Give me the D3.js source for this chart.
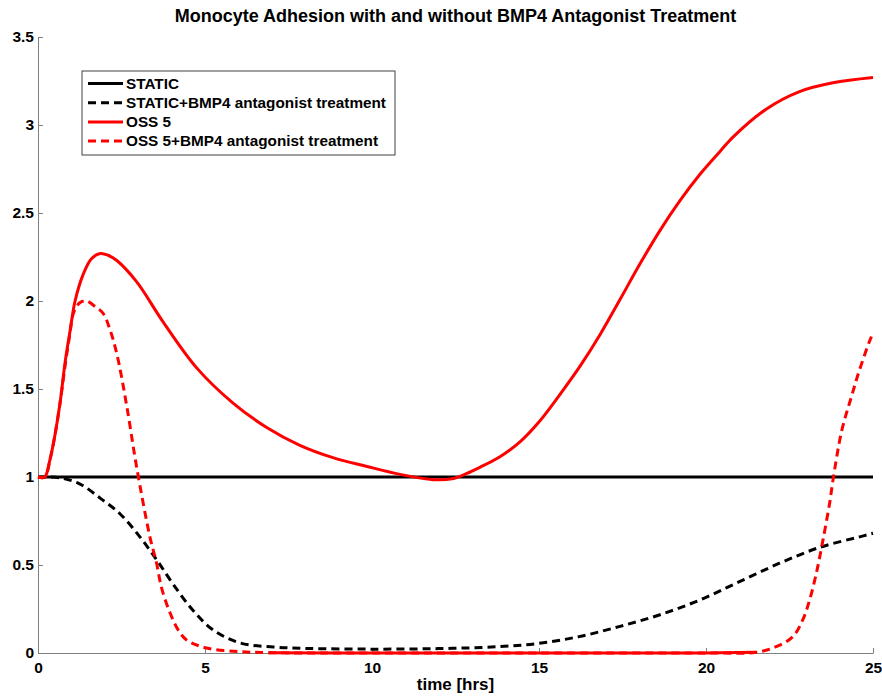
<!DOCTYPE html>
<html>
<head>
<meta charset="utf-8">
<script src="https://cdn.jsdelivr.net/npm/d3@7"></script>
<style>
  body { margin: 0; background: #fff; }
  text { font-family: "Liberation Sans", Arial, sans-serif; font-weight: bold; }
</style>
</head>
<body>
<svg id="chart" width="882" height="698"></svg>
<script>
// chart text
const titleText = 'Monocyte Adhesion with and without BMP4 Antagonist Treatment';
const xLabelText = 'time [hrs]';
const xTicks = [0, 5, 10, 15, 20, 25];
const yTicks = [0, 0.5, 1, 1.5, 2, 2.5, 3, 3.5];

// STATIC - flat at 1
const staticTime = [0, 25];
const staticVals = [1, 1];

// STATIC + BMP4 antagonist
const staticBmpTime = [0, 0.66, 1.26, 1.86, 2.46, 3.05, 3.55, 4.05, 4.65, 5.25, 6.05, 7.05, 8.05, 10, 12, 13.8, 15.0, 16.2, 17.4, 18.6, 19.8, 21.0, 22.2, 23.4, 24.6, 25];
const staticBmpVals = [1, 0.995, 0.96, 0.88, 0.79, 0.66, 0.53, 0.39, 0.24, 0.13, 0.057, 0.034, 0.026, 0.022, 0.025, 0.036, 0.055, 0.093, 0.15, 0.216, 0.30, 0.405, 0.51, 0.60, 0.66, 0.68];

// OSS 5
const ossTime = [0, 0.2, 0.36, 0.5, 0.66, 0.81, 0.96, 1.11, 1.35, 1.6, 1.86, 2.1, 2.36, 2.95, 3.75, 4.75, 5.84, 6.86, 7.84, 8.83, 9.85, 10.84, 11.83, 12.4, 12.84, 13.23, 13.83, 14.43, 15.03, 15.63, 16.23, 16.83, 17.43, 18.02, 18.62, 19.22, 19.82, 20.42, 20.8, 21.8, 22.8, 23.8, 25];
const ossVals = [1, 1, 1.1, 1.23, 1.42, 1.65, 1.83, 2.0, 2.15, 2.24, 2.27, 2.26, 2.23, 2.11, 1.88, 1.62, 1.42, 1.28, 1.18, 1.11, 1.06, 1.015, 0.985, 0.99, 1.02, 1.055, 1.115, 1.2, 1.32, 1.47, 1.63, 1.81, 2.01, 2.21, 2.40, 2.57, 2.72, 2.85, 2.93, 3.09, 3.19, 3.24, 3.27];

// OSS 5 + BMP4 antagonist
const ossBmpTime = [0, 0.2, 0.36, 0.5, 0.66, 0.81, 0.96, 1.06, 1.25, 1.45, 1.7, 1.95, 2.15, 2.36, 2.66, 2.95, 3.35, 3.55, 3.7, 3.95, 4.2, 4.45, 5.05, 6.05, 6.9, 10, 15, 20, 21.5, 22.1, 22.6, 22.9, 23.1, 23.3, 23.5, 23.7, 23.8, 24.06, 24.36, 24.6, 24.96, 25];
const ossBmpVals = [1, 1, 1.1, 1.23, 1.42, 1.63, 1.82, 1.93, 1.99, 2.0, 1.97, 1.93, 1.84, 1.70, 1.40, 1.06, 0.66, 0.51, 0.37, 0.23, 0.13, 0.074, 0.028, 0.008, 0.002, 0, 0, 0, 0.004, 0.036, 0.093, 0.19, 0.30, 0.45, 0.64, 0.85, 0.98, 1.26, 1.46, 1.61, 1.80, 1.81];

const zip = (ts, vs) => ts.map((t, i) => ({ t: t, v: vs[i] }));

const series = [
  { name: 'STATIC', color: '#000', dash: null, data: zip(staticTime, staticVals) },
  { name: 'STATIC+BMP4 antagonist treatment', color: '#000', dash: '8,5', data: zip(staticBmpTime, staticBmpVals) },
  { name: 'OSS 5', color: '#f00', dash: null, data: zip(ossTime, ossVals) },
  { name: 'OSS 5+BMP4 antagonist treatment', color: '#f00', dash: '8,5', data: zip(ossBmpTime, ossBmpVals) }
];

const svg = d3.select('#chart');
const margin = { top: 37, right: 9, bottom: 45, left: 38 };
const width = +svg.attr('width');
const height = +svg.attr('height');
const innerW = width - margin.left - margin.right;
const innerH = height - margin.top - margin.bottom;

const x = d3.scaleLinear().domain([0, 25]).range([0, innerW]);
const y = d3.scaleLinear().domain([0, 3.5]).range([innerH, 0]);

const g = svg.append('g')
  .attr('transform', `translate(${margin.left},${margin.top})`);

// axes - ticks point inward like matlab
const xAxisG = g.append('g')
  .attr('transform', `translate(0,${innerH})`)
  .call(d3.axisBottom(x).tickValues(xTicks).tickFormat(d3.format('d'))
    .tickSizeInner(-5).tickSizeOuter(0).tickPadding(9));

const yAxisG = g.append('g')
  .call(d3.axisLeft(y).tickValues(yTicks).tickFormat(d => d)
    .tickSizeInner(-5).tickSizeOuter(0).tickPadding(4));

[xAxisG, yAxisG].forEach(a => {
  a.selectAll('.domain, .tick line').attr('stroke', '#808080');
  a.selectAll('text').attr('fill', '#000').style('font-size', '15.5px');
});

// curves
const line = d3.line()
  .x(d => x(d.t))
  .y(d => y(Math.max(0, d.v)))
  .curve(d3.curveCatmullRom.alpha(0.5));

series.forEach(s => {
  g.append('path')
    .datum(s.data)
    .attr('fill', 'none')
    .attr('stroke', s.color)
    .attr('stroke-width', 3)
    .attr('stroke-dasharray', s.dash)
    .attr('d', line);
});

// matlab draws the flat zero stretch of the dashed red curve as a solid run
const flatRun = series[3].data.filter(d => d.t >= 6.9 && d.t <= 21.5);
g.append('path')
  .datum(flatRun)
  .attr('fill', 'none')
  .attr('stroke', '#f00')
  .attr('stroke-width', 3)
  .attr('d', line);

// legend
const legend = svg.append('g').attr('transform', 'translate(82,71)');
legend.append('rect')
  .attr('width', 313).attr('height', 84)
  .attr('fill', '#fff').attr('stroke', '#404040').attr('stroke-width', 1);

const rows = legend.selectAll('.row').data(series).enter().append('g')
  .attr('transform', (d, i) => `translate(0,${12.5 + i * 19.2})`);
rows.append('line')
  .attr('x1', 6).attr('x2', 41)
  .attr('stroke', d => d.color).attr('stroke-width', 3)
  .attr('stroke-dasharray', d => d.dash);
rows.append('text')
  .attr('x', 44).attr('dy', '0.35em')
  .style('font-size', '15.3px')
  .text(d => d.name);

// title & label
svg.append('text')
  .attr('x', margin.left + innerW / 2).attr('y', 22)
  .attr('text-anchor', 'middle')
  .style('font-size', '18px')
  .text(titleText);

svg.append('text')
  .attr('x', margin.left + innerW / 2).attr('y', 690)
  .attr('text-anchor', 'middle')
  .style('font-size', '17px')
  .text(xLabelText);
</script>
</body>
</html>
